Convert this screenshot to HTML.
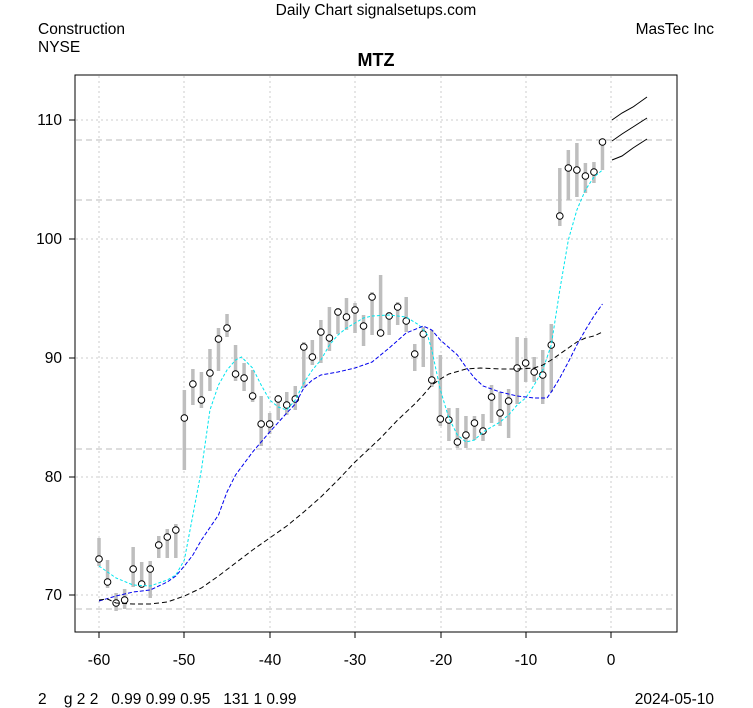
<!DOCTYPE html>
<html><head><meta charset="utf-8"><style>
body{margin:0;background:#fff}
svg{display:block;font-family:"Liberation Sans",Arial,sans-serif}
</style></head><body>
<svg id="s" width="753" height="708" xmlns="http://www.w3.org/2000/svg">
<rect width="753" height="708" fill="#fff"/>
<g id="grid"></g>
<g id="bars"></g>
<g id="lines"></g>
<rect x="75" y="75" width="602" height="557" fill="none" stroke="#000" stroke-width="1"/>
<g font-size="15.5" fill="#000">
<text x="376" y="15" text-anchor="middle">Daily Chart signalsetups.com</text>
<text x="38" y="34">Construction</text>
<text x="38" y="52">NYSE</text>
<text x="714" y="34" text-anchor="end">MasTec Inc</text>
<text x="376" y="66" text-anchor="middle" font-weight="bold" font-size="18">MTZ</text>
<text x="38" y="704" xml:space="preserve">2    g 2 2   0.99 0.99 0.95   131 1 0.99</text>
<text x="714" y="704" text-anchor="end">2024-05-10</text>
<g text-anchor="end">
<text x="62" y="125">110</text><text x="62" y="244">100</text><text x="62" y="363">90</text><text x="62" y="482">80</text><text x="62" y="600">70</text>
</g>
<g text-anchor="middle">
<text x="99" y="665">-60</text><text x="184" y="665">-50</text><text x="270" y="665">-40</text><text x="355" y="665">-30</text><text x="441" y="665">-20</text><text x="526" y="665">-10</text><text x="611" y="665">0</text>
</g>
</g>
</svg>
<script>
const NS="http://www.w3.org/2000/svg";
function el(p,t,a){const e=document.createElementNS(NS,t);for(const k in a)e.setAttribute(k,a[k]);document.getElementById(p).appendChild(e);return e;}
[120,239,358,477,595].forEach(y=>{el("grid","line",{x1:76,x2:676,y1:y,y2:y,stroke:"#ccc","stroke-dasharray":"2,3"});el("grid","line",{x1:69,x2:75,y1:y,y2:y,stroke:"#000"});});
[99,184,270,355,441,526,611].forEach(x=>{el("grid","line",{x1:x,x2:x,y1:76,y2:631,stroke:"#ccc","stroke-dasharray":"2,3"});el("grid","line",{x1:x,x2:x,y1:632,y2:638,stroke:"#000"});});
[140,200,449,609].forEach(y=>el("grid","line",{x1:76,x2:676,y1:y,y2:y,stroke:"#bbb","stroke-dasharray":"6,4"}));
const d=[[559,538,566],[582,560,588],[603,593,611],[600,589,609],[569,547,587],[584,562,588],[569,561,598],[545,536,558],[537,529,558],[530,524,558],[418,390,470],[384,369,405],[400,372,408],[373,349,391],[339,328,371],[328,314,337],[374,345,381],[378,363,391],[396,370,402],[424,396,446],[424,413,434],[399,395,420],[405,392,415],[399,386,410],[347,342,388],[357,340,365],[332,320,363],[338,307,351],[312,308,334],[317,298,330],[310,303,333],[326,315,346],[297,292,335],[333,275,335],[316,312,335],[307,302,325],[321,297,332],[354,344,371],[334,327,367],[380,330,387],[419,355,426],[420,408,441],[442,408,448],[435,416,448],[423,416,440],[431,414,441],[397,385,423],[413,392,426],[401,389,438],[368,337,404],[363,338,382],[372,357,382],[375,350,404],[345,324,392],[216,168,226],[168,150,200],[170,143,197],[176,163,193],[172,162,183],[142,141,170]];
d.forEach((v,k)=>{const x=611+8.533*(k-60);el("bars","line",{x1:x,x2:x,y1:v[1],y2:v[2],stroke:"#bebebe","stroke-width":3.5});el("bars","circle",{cx:x,cy:v[0],r:3.3,fill:"#fff",stroke:"#000","stroke-width":1});});
function X(i){return 611+8.533*i;}
function line(pts,c,dash){el("lines","polyline",{points:pts.map(p=>X(p[0])+","+p[1]).join(" "),fill:"none",stroke:c,"stroke-width":1,"stroke-dasharray":dash});}
line([[-60,566],[-58,578],[-56,585],[-54,586],[-52,580],[-51,575],[-50,560],[-49,515],[-48,470],[-47,410],[-46,385],[-45,370],[-44,360],[-43.3,357],[-42,368],[-41,385],[-40,400],[-39,407],[-38,410],[-37,400],[-36,383],[-35,370],[-34,360],[-33,345],[-32,335],[-31,328],[-30,323],[-29,318],[-28,316],[-26,315],[-24,317],[-22.5,325],[-21.5,335],[-21,350],[-20,390],[-19,418],[-18,435],[-17,442],[-16,440],[-15,432],[-14,427],[-13,422],[-12,415],[-11,405],[-10,398],[-9,385],[-8,370],[-7,345],[-6,290],[-5,240],[-4,210],[-3,190],[-2,177],[-1,170]],"#00e5ee","3,2");
line([[-60,601],[-58,596],[-56,592],[-54,590],[-52,582],[-51,576],[-50,566],[-49,555],[-48,540],[-46,515],[-45,492],[-44,475],[-42,452],[-40,432],[-38,413],[-37,404],[-36,388],[-35,380],[-34,375],[-32,372],[-30,368],[-28,362],[-26,348],[-24,333],[-22,326],[-21,330],[-20,340],[-18,355],[-17,367],[-16,378],[-15,386],[-13,392],[-11,396],[-9,398],[-7.5,398],[-7,392],[-6,378],[-5,362],[-4,345],[-3,330],[-2,316],[-1,304]],"#0000ee","4,2");
line([[-60,600],[-59,599],[-58,603],[-56,604],[-54,604],[-52,602],[-50,596],[-48,588],[-46,576],[-44,563],[-42,550],[-40,538],[-38,526],[-36,512],[-34,497],[-32,480],[-30,462],[-28,446],[-27,438],[-25,420],[-23,404],[-22,395],[-21,385],[-20,379],[-19,374],[-17,369],[-15.3,368],[-13,369],[-11,369],[-9,368],[-8,365],[-7,360],[-6,354],[-5,348],[-4,342],[-3,338],[-2,336],[-1,332]],"#000","5,3");
el("lines","polyline",{points:"612,120 622,113 633,107 647,97",fill:"none",stroke:"#000"});
el("lines","polyline",{points:"612,141 622,134 633,127 647,118",fill:"none",stroke:"#000"});
el("lines","polyline",{points:"612,160 622,156 633,148 647,139",fill:"none",stroke:"#000"});
</script>
</body></html>
